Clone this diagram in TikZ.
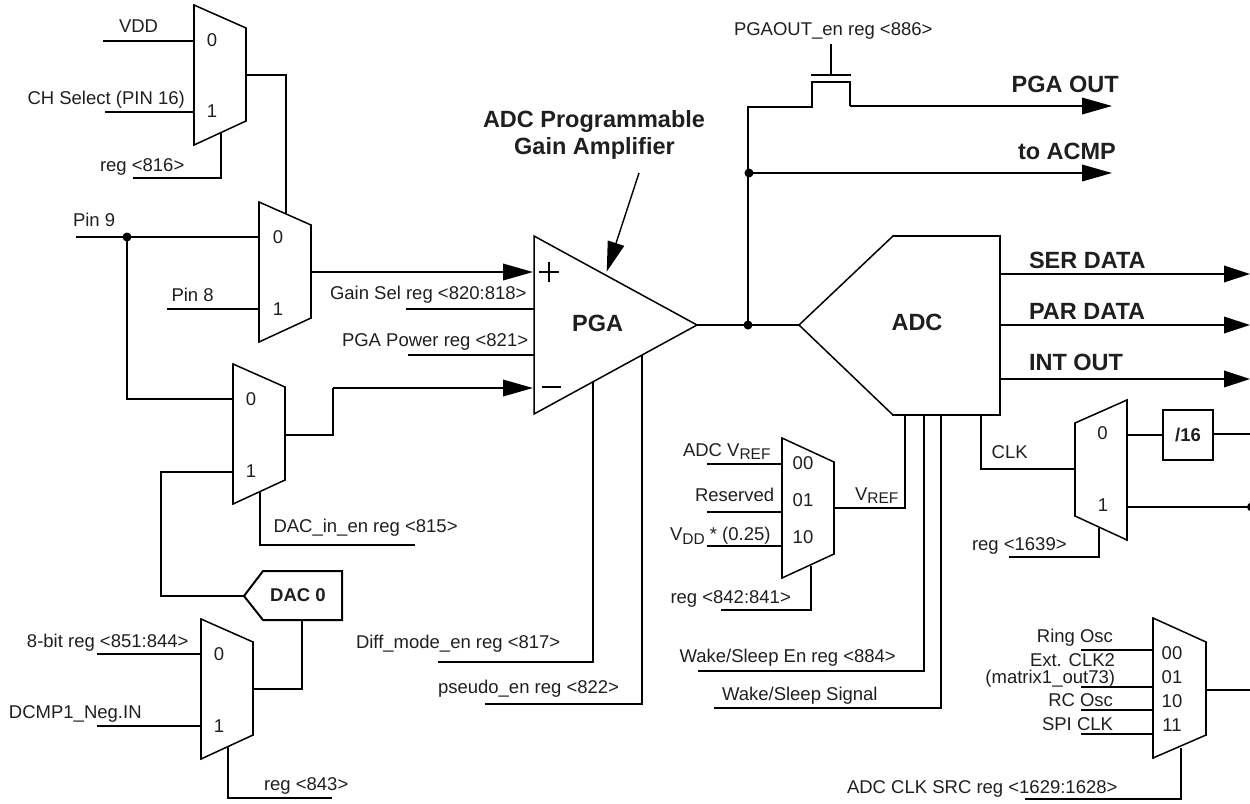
\documentclass[tikz,border=0pt]{standalone}
\usepackage{fontspec}
\setmainfont{Liberation Sans}
\usetikzlibrary{arrows.meta}
\newcommand\lowtxt[1]{\raisebox{-3.5pt}{\fontsize{15.5}{16}\selectfont #1}}
% name, left x, right x, y at tall side top, y at short side top, y at short side bottom
\newcommand\muxR[6]{%
  \coordinate (#1-a) at (#2,#4); \coordinate (#1-b) at (#3,#5);
  \coordinate (#1-c) at (#3,#6); \coordinate (#1-d) at (#2,#4+140);
  \draw[polyline,fill=white] (#1-a) -- (#1-b) -- (#1-c) -- (#1-d) -- cycle;
  \draw[edge] (#1-a) -- (#1-d) (#1-b) -- (#1-c);}
\newcommand\muxL[6]{%
  \coordinate (#1-a) at (#3,#4); \coordinate (#1-b) at (#2,#5);
  \coordinate (#1-c) at (#2,#6); \coordinate (#1-d) at (#3,#4+140);
  \draw[polyline,fill=white] (#1-a) -- (#1-b) -- (#1-c) -- (#1-d) -- cycle;
  \draw[edge] (#1-a) -- (#1-d) (#1-b) -- (#1-c);}
\tikzset{
  wire/.style={line width=2pt,line join=miter,line cap=butt},
  edge/.style={line width=2pt,line cap=round},
  polyline/.style={line width=1.5pt,line join=miter},
  arrowwire/.style={wire,-{Triangle[length=30pt,width=16.5pt]}},
  edgearrow/.style={wire,-{Triangle[length=26pt,width=16.5pt]}},
  callout/.style={line width=1.4pt,-{Triangle[length=30pt,width=17pt]}},
  lab/.style={inner sep=0pt,outer sep=0pt,font=\fontsize{18.5}{22}\selectfont,text=black!88},
  digit/.style={lab,anchor=center},
  boldlab/.style={lab,font=\fontsize{18.5}{22}\selectfont\bfseries},
  biglab/.style={lab,font=\fontsize{23.5}{28}\selectfont\bfseries},
  junction/.style={circle,fill=black,inner sep=0pt,minimum size=9pt}
}
\begin{document}
\begin{tikzpicture}[x=1pt,y=-1pt]
\useasboundingbox (0,0) rectangle (1250,803);

% ---- named connection points ----
\coordinate (vddS) at (103,41);     \coordinate (vddE) at (194,41);
\coordinate (chS) at (105,112);     \coordinate (chE) at (194,112);
\coordinate (r816a) at (133,178);   \coordinate (r816b) at (221,178);   \coordinate (r816c) at (221,132);
\coordinate (m1o) at (245,75);      \coordinate (m1p) at (286,75);      \coordinate (m2t) at (286,215);
\coordinate (pin9S) at (76,237);    \coordinate (pin9E) at (259,237);   \coordinate (p9d) at (127,399); \coordinate (m3i0) at (233,399);
\coordinate (pin8S) at (167,309);   \coordinate (pin8E) at (259,309);
\coordinate (m2o) at (311,272);     \coordinate (plus) at (533,272);
\coordinate (gainS) at (406,309);   \coordinate (gainE) at (534,309);
\coordinate (powS) at (408,355);    \coordinate (powE) at (534,355);
\coordinate (m3o) at (285,435);     \coordinate (m3p) at (333,435);     \coordinate (m3q) at (333,388);   \coordinate (minus) at (533,388);
\coordinate (m3i1) at (233,472);    \coordinate (m3j) at (161,472);     \coordinate (m3k) at (161,596);
\coordinate (dacctl1) at (260,492); \coordinate (dacctl2) at (260,545); \coordinate (dacctl3) at (415,545);
\coordinate (dactip) at (244,596);
\coordinate (m4o) at (253,689);     \coordinate (m4p) at (302,689);     \coordinate (dacb) at (302,620);
\coordinate (bitS) at (97,654);     \coordinate (bitE) at (201,654);
\coordinate (dcS) at (97,726);      \coordinate (dcE) at (201,726);
\coordinate (r843a) at (228,747);   \coordinate (r843b) at (228,798);   \coordinate (r843c) at (332,798);
\coordinate (diffa) at (593,382);   \coordinate (diffb) at (593,662);   \coordinate (diffc) at (438,662);
\coordinate (pseua) at (642,355);   \coordinate (pseub) at (642,704);   \coordinate (pseuc) at (485,704);
\coordinate (pgao) at (697,325);    \coordinate (adci) at (799,325);
\coordinate (j1) at (748,325);      \coordinate (j2) at (748,173);      \coordinate (up) at (748,107);
\coordinate (sw1) at (812,107);     \coordinate (sw2) at (812,82);      \coordinate (sw3) at (850,82);
\coordinate (sw4) at (850,106);     \coordinate (pgaoutE) at (1112,106); \coordinate (acmpE) at (1112,173);
\coordinate (gateL) at (811,75);    \coordinate (gateR) at (851,75);    \coordinate (gateM) at (831,75); \coordinate (gateT) at (831,44);
\coordinate (callS) at (639,173);   \coordinate (callE) at (606.7,271.7);
\coordinate (serS) at (1000,274);   \coordinate (serE) at (1250,274);
\coordinate (parS) at (1000,325);   \coordinate (parE) at (1250,325);
\coordinate (intS) at (1000,379);   \coordinate (intE) at (1250,379);
\coordinate (vr1) at (905,415);     \coordinate (vr2) at (905,508);     \coordinate (vr3) at (834,508);
\coordinate (ws1) at (924,415);     \coordinate (ws2) at (924,671);     \coordinate (ws3) at (698,671);
\coordinate (wg1) at (941,415);     \coordinate (wg2) at (941,708);     \coordinate (wg3) at (714,708);
\coordinate (ck1) at (981,415);     \coordinate (ck2) at (981,469);     \coordinate (ck3) at (1075,469);
\coordinate (c0a) at (1127,435);    \coordinate (c0b) at (1163,435);    \coordinate (d16o) at (1213,434); \coordinate (d16e) at (1250,434);
\coordinate (c1a) at (1127,507);    \coordinate (c1b) at (1250,507);
\coordinate (r1639a) at (1099,528); \coordinate (r1639b) at (1099,557); \coordinate (r1639c) at (1009,557);
\coordinate (v0s) at (707,464);     \coordinate (v0e) at (782,464);
\coordinate (v1s) at (707,512);     \coordinate (v1e) at (782,512);
\coordinate (v2s) at (707,546);     \coordinate (v2e) at (782,546);
\coordinate (r842a) at (811,566);   \coordinate (r842b) at (811,610);   \coordinate (r842c) at (721,610);
\coordinate (s0s) at (1081,650);    \coordinate (s0e) at (1153,650);
\coordinate (s1s) at (1081,687);    \coordinate (s1e) at (1153,687);
\coordinate (s2s) at (1081,710);    \coordinate (s2e) at (1153,710);
\coordinate (s3s) at (1081,734);    \coordinate (s3e) at (1153,734);
\coordinate (sro) at (1205,690);    \coordinate (sre) at (1250,690);
\coordinate (src1) at (1181,748);   \coordinate (src2) at (1181,799);   \coordinate (src3) at (1025,799);

% ---- amplifier and converter outlines ----
\coordinate (pga-t) at (534,236); \coordinate (pga-b) at (534,414);
\draw[polyline,fill=white] (pga-t) -- (pgao) -- (pga-b) -- cycle;
\coordinate (adc-a) at (893,236); \coordinate (adc-b) at (1000,236);
\coordinate (adc-c) at (1000,415); \coordinate (adc-d) at (893,415);
\draw[polyline,fill=white] (adci) -- (adc-a) -- (adc-b) -- (adc-c) -- (adc-d) -- cycle;
\draw[edge] (adc-a) -- (adc-b) -- (adc-c) -- (adc-d);

% ---- wires ----
\draw[wire] (vddS) -- (vddE);
\draw[wire] (chS) -- (chE);
\draw[wire] (r816a) -- (r816b) -- (r816c);
\draw[wire] (m1o) -- (m1p) -- (m2t);
\draw[wire] (pin9S) -- (pin9E);
\draw[wire] (pin9S -| p9d) -- (p9d) -- (m3i0);
\draw[wire] (pin8S) -- (pin8E);
\draw[arrowwire] (m2o) -- (plus);
\draw[wire] (gainS) -- (gainE);
\draw[wire] (powS) -- (powE);
\draw[wire] (m3o) -- (m3p) -- (m3q);
\draw[arrowwire] (m3q) -- (minus);
\draw[wire] (m3i1) -- (m3j) -- (m3k) -- (dactip);
\draw[wire] (dacctl1) -- (dacctl2) -- (dacctl3);
\draw[wire] (m4o) -- (m4p) -- (dacb);
\draw[wire] (bitS) -- (bitE);
\draw[wire] (dcS) -- (dcE);
\draw[wire] (r843a) -- (r843b) -- (r843c);
\draw[wire] (diffa) -- (diffb) -- (diffc);
\draw[wire] (pseua) -- (pseub) -- (pseuc);
\draw[wire] (pgao) -- (adci);
\draw[wire] (j1) -- (up) -- (sw1) -- (sw2) -- (sw3) -- (sw4);
\draw[arrowwire] (sw4) -- (pgaoutE);
\draw[arrowwire] (j2) -- (acmpE);
\draw[wire] (gateL) -- (gateR);
\draw[wire] (gateM) -- (gateT);
\draw[callout] (callS) -- (callE);
\draw[edgearrow] (serS) -- (serE);
\draw[edgearrow] (parS) -- (parE);
\draw[edgearrow] (intS) -- (intE);
\draw[wire] (vr1) -- (vr2) -- (vr3);
\draw[wire] (ws1) -- (ws2) -- (ws3);
\draw[wire] (wg1) -- (wg2) -- (wg3);
\draw[wire] (ck1) -- (ck2) -- (ck3);
\draw[wire] (c0a) -- (c0b);
\draw[wire] (d16o) -- (d16e);
\draw[wire] (c1a) -- (c1b);
\draw[wire] (r1639a) -- (r1639b) -- (r1639c);
\draw[wire] (v0s) -- (v0e);
\draw[wire] (v1s) -- (v1e);
\draw[wire] (v2s) -- (v2e);
\draw[wire] (r842a) -- (r842b) -- (r842c);
\draw[wire] (s0s) -- (s0e);
\draw[wire] (s1s) -- (s1e);
\draw[wire] (s2s) -- (s2e);
\draw[wire] (s3s) -- (s3e);
\draw[wire] (sro) -- (sre);
\draw[wire] (src1) -- (src2) -- (src3);

% ---- junction dots ----
\node[junction] (dot1) at (127,237) {};
\node[junction] (dot2) at (748,325) {};
\node[junction] (dot3) at (749,173) {};
\node[junction] (dot4) at (1251.5,507) {};

% ---- multiplexers ----
\muxR{mA}{194}{246}{5}{28}{121}
\muxR{mB}{259}{311}{202}{225}{318}
\muxR{mC}{233}{285}{364}{387}{480}
\muxR{mD}{201}{253}{619}{642}{735}
\muxR{mV}{782}{834}{438}{462}{554}
\muxL{mK}{1075}{1127}{400}{423}{516}
\muxR{mS}{1153}{1206}{618}{642}{735}

% ---- DAC and divider ----
\node[draw,line width=2pt,boldlab,minimum width=50pt,minimum height=50pt,anchor=center] (div) at (1188,435) {/16};
\coordinate (dac-a) at (263,571); \coordinate (dac-b) at (342,571);
\coordinate (dac-c) at (342,620); \coordinate (dac-d) at (263,620);
\draw[wire,fill=white] (dactip) -- (dac-a) -- (dac-b) -- (dac-c) -- (dac-d) -- cycle;

% ---- plus and minus signs ----
\draw[line width=1.6pt] (539,272) -- (559,272) (549,262) -- (549,282);
\draw[line width=1.6pt] (542,387) -- (561,387);

% ---- mux digits ----
\node[digit] (dA0) at (212,40) {0};    \node[digit] (dA1) at (212,111) {1};
\node[digit] (dB0) at (278,237) {0};   \node[digit] (dB1) at (278,309) {1};
\node[digit] (dC0) at (251,399) {0};   \node[digit] (dC1) at (251,471) {1};
\node[digit] (dD0) at (219,654) {0};   \node[digit] (dD1) at (219,726) {1};
\node[digit] (dV0) at (803,463) {00};  \node[digit] (dV1) at (803,500) {01};  \node[digit] (dV2) at (803,537) {10};
\node[digit] (dK0) at (1102.5,433) {0}; \node[digit] (dK1) at (1103,505) {1};
\node[digit] (dS0) at (1172,653) {00}; \node[digit] (dS1) at (1172,677) {01};
\node[digit] (dS2) at (1172,701) {10}; \node[digit] (dS3) at (1172,725) {11};

% ---- labels ----
\node[lab,anchor=base west] (tVDD) at (119,32) {VDD};
\node[lab,anchor=base west] (tCH) at (27.5,104) {CH Select (PIN 16)};
\node[lab,anchor=base west] (t816) at (100,171.7) {reg <816>};
\node[lab,anchor=base west] (tP9) at (73,226.7) {Pin 9};
\node[lab,anchor=base west] (tP8) at (171.5,301) {Pin 8};
\node[lab,anchor=base west] (tGain) at (330,299) {Gain Sel reg <820:818>};
\node[lab,anchor=base west] (tPow) at (342,346) {PGA Power reg <821>};
\node[lab,anchor=base west] (tDin) at (273.5,532.7) {DAC\_in\_en reg <815>};
\node[lab,anchor=base west] (t8b) at (27,647.7) {8-bit reg <851:844>};
\node[lab,anchor=base west] (tDC) at (9,718) {DCMP1\_Neg.IN};
\node[lab,anchor=base west] (t843) at (264,790.7) {reg <843>};
\node[lab,anchor=base west] (tDiff) at (356,648) {Diff\_mode\_en reg <817>};
\node[lab,anchor=base west] (tPs) at (438,693) {pseudo\_en reg <822>};
\node[lab,anchor=base west] (tPO) at (734,35) {PGAOUT\_en reg <886>};
\node[lab,anchor=base west] (tAV) at (683,456) {ADC V\lowtxt{REF}};
\node[lab,anchor=base west] (tRes) at (695,501.7) {Reserved};
\node[lab,anchor=base west] (tVD) at (670,540.7) {V\lowtxt{DD} * (0.25)};
\node[lab,anchor=base west] (t842) at (670.5,603) {reg <842:841>};
\node[lab,anchor=base west] (tWE) at (679.5,662.7) {Wake/Sleep En reg <884>};
\node[lab,anchor=base west] (tWS) at (722,700) {Wake/Sleep Signal};
\node[lab,anchor=base west] (tVR) at (855,500) {V\lowtxt{REF}};
\node[lab,anchor=base west] (tCK) at (991.7,458) {CLK};
\node[lab,anchor=base west] (t1639) at (972,550.7) {reg <1639>};
\node[lab,anchor=base east] (tRing) at (1113,642.7) {Ring Osc};
\node[lab,anchor=base east] (tExt) at (1115,666) {Ext. CLK2};
\node[lab,anchor=base east] (tMat) at (1115,683) {(matrix1\_out73)};
\node[lab,anchor=base east] (tRC) at (1113,706.7) {RC Osc};
\node[lab,anchor=base east] (tSPI) at (1113,730.7) {SPI CLK};
\node[lab,anchor=base west] (tSrc) at (847,793) {ADC CLK SRC reg <1629:1628>};

\node[biglab,anchor=base] (tPGA) at (597.7,331.7) {PGA};
\node[biglab,anchor=base] (tADC) at (917,330) {ADC};
\node[biglab,anchor=base] (tL1) at (594,127.7) {ADC Programmable};
\node[biglab,anchor=base] (tL2) at (594.5,154.3) {Gain Amplifier};
\node[biglab,anchor=base west] (tOut) at (1011.7,92.3) {PGA OUT};
\node[biglab,anchor=base west] (tAC) at (1018,159) {to ACMP};
\node[biglab,anchor=base west] (tSer) at (1029,268.3) {SER DATA};
\node[biglab,anchor=base west] (tPar) at (1029,319) {PAR DATA};
\node[biglab,anchor=base west] (tInt) at (1029,370) {INT OUT};
\node[boldlab,anchor=base] (tDac) at (298,601.7) {DAC 0};
\end{tikzpicture}
\end{document}
